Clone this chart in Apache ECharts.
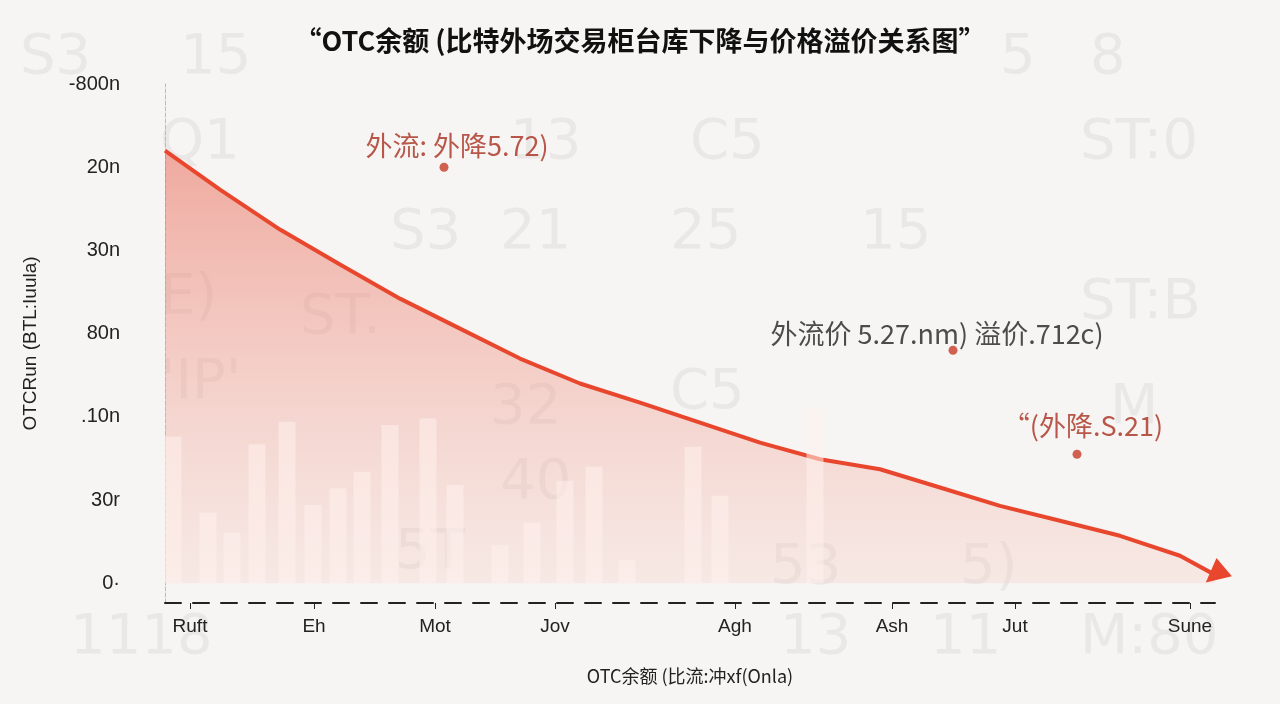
<!DOCTYPE html>
<html>
<head>
<meta charset="utf-8">
<script src="https://cdn.jsdelivr.net/npm/echarts@6/dist/echarts.min.js"></script>
<style>
  html, body { margin: 0; padding: 0; background: #f7f5f4; }
  #chart { width: 1280px; height: 704px; }
</style>
</head>
<body>
<div id="chart"></div>
<script>
// x is measured on a 0..105 scale across the plot width
var xTickPos = [2.5, 14.9, 27, 39, 57, 72.7, 85, 102.5];
var xTickLabels = ['Ruft', 'Eh', 'Mot', 'Jov', 'Agh', 'Ash', 'Jut', 'Sune'];
var yTickPos = [0, 1, 2, 3, 4, 5, 6];
var yTickLabels = ['0·', '30r', '.10n', '80n', '30n', '20n', '-800n'];

var lineX = [0, 5.5, 11.5, 17.5, 23.5, 29.5, 35.5, 41.5, 47.5, 53.5, 59.5, 65.5, 71.5, 77.5, 83.5, 89.5, 95.5, 101.5, 105];
var lineY = [5.2, 4.73, 4.25, 3.83, 3.42, 3.06, 2.7, 2.4, 2.17, 1.93, 1.69, 1.49, 1.37, 1.15, 0.93, 0.75, 0.57, 0.33, 0.1];

var barX = [0.8, 4.3, 6.7, 9.2, 12.2, 14.8, 17.3, 19.7, 22.5, 26.3, 29, 33.5, 36.7, 40, 42.9, 46.2, 52.8, 55.5, 65];
var barY = [1.76, 0.85, 0.61, 1.67, 1.94, 0.94, 1.14, 1.34, 1.9, 1.98, 1.18, 0.46, 0.73, 1.23, 1.4, 0.28, 1.64, 1.05, 2.1];

var notes = [
  { x: 27.9, y: 5.0, text: '外流: 外降5.72)', color: '#a8301e', dx: 13, dy: 2 },
  { x: 78.8, y: 2.8, text: '外流价 5.27.nm) 溢价.712c)', color: '#222', dx: -16, dy: 6 },
  { x: 91.2, y: 1.55, text: '“(外降.S.21)', color: '#a8301e', dx: 6, dy: -6 }
];

var watermarks = [
  ['15', 180, 60], ['S3', 20, 60], ['8', 1090, 60], ['5', 1000, 60],
  ['Q1', 160, 145], ['C5', 690, 145], ['ST:0', 1080, 145], ['13', 510, 145],
  ['25', 670, 235], ['15', 860, 235], ['21', 500, 235], ['S3', 390, 235],
  ['ST:B', 1080, 305], ['ST.', 300, 320], ['E)', 160, 300], ['32', 490, 410],
  ['\'IP\'', 160, 385], ['C5', 670, 395], ['40', 500, 485], ['53', 770, 570],
  ['5T', 395, 555], ['5)', 960, 570], ['M', 1110, 410], ['M:80', 1080, 640],
  ['1118', 70, 640], ['13', 780, 640], ['11', 930, 640]
];

var chart = echarts.init(document.getElementById('chart'));

var option = {
  backgroundColor: '#f7f5f4',
  graphic: watermarks.map(function (w) {
    return {
      type: 'text', left: w[1], top: w[2] - 30, z: -10, silent: true,
      style: { text: w[0], font: '56px DejaVu Sans', fill: 'rgba(150,150,150,0.13)' }
    };
  }),
  title: {
    text: '“OTC余额 (比特外场交易柜台库下降与价格溢价关系图”',
    left: 'center', top: 22,
    textStyle: { fontSize: 27, fontWeight: 'bold', color: '#111', fontFamily: 'Noto Sans CJK SC' }
  },
  grid: { left: 165, right: 65, top: 84, bottom: 101 },
  xAxis: {
    type: 'value', min: 0, max: 105,
    name: 'OTC余额 (比流:冲xf(Onla)', nameLocation: 'middle', nameGap: 64,
    nameTextStyle: { fontSize: 18, color: '#222', fontFamily: 'Noto Sans CJK SC' },
    axisLine: { show: true, onZero: false, lineStyle: { color: '#222', width: 2, type: [16, 12] } },
    axisTick: { show: true, customValues: xTickPos, length: 6, lineStyle: { color: '#222' } },
    axisLabel: {
      customValues: xTickPos, fontSize: 19, color: '#222', margin: 14,
      formatter: function (v) { return xTickLabels[xTickPos.indexOf(v)]; }
    },
    splitLine: { show: false }
  },
  yAxis: {
    type: 'value', min: -0.238, max: 6,
    name: 'OTCRun (BTL:Iuula)', nameLocation: 'middle', nameGap: 125, nameRotate: 90,
    nameTextStyle: { fontSize: 19, color: '#222' },
    axisLine: { show: true, lineStyle: { color: '#bbb', type: 'dashed' } },
    axisTick: { show: false },
    axisLabel: {
      customValues: yTickPos, fontSize: 20, color: '#222', margin: 45,
      formatter: function (v) { return yTickLabels[yTickPos.indexOf(v)]; }
    },
    splitLine: { show: false }
  },
  series: [
    {
      type: 'line', z: 3,
      data: lineX.map(function (x, i) {
        var p = [x, lineY[i]];
        if (i === lineX.length - 1) {
          return { value: p, symbol: 'triangle', symbolSize: 24, symbolRotate: 130, itemStyle: { color: '#e8472e' } };
        }
        return p;
      }),
      symbol: 'none',
      lineStyle: { color: '#e8472e', width: 4 },
      areaStyle: {
        origin: 0,
        color: new echarts.graphic.LinearGradient(0, 0, 0, 1, [
          { offset: 0, color: 'rgba(232,100,80,0.75)' },
          { offset: 1, color: 'rgba(246,205,195,0.45)' }
        ])
      }
    },
    {
      type: 'bar', z: 4, barWidth: 17,
      data: barX.map(function (x, i) { return [x, barY[i]]; }),
      itemStyle: { color: 'rgba(255,240,236,0.55)' }
    },
    {
      type: 'scatter', z: 5, symbolSize: 9,
      data: notes.map(function (n) {
        return {
          value: [n.x, n.y],
          label: {
            show: true, formatter: n.text, position: 'top', offset: [n.dx, n.dy],
            fontSize: 27, color: n.color, fontFamily: 'Noto Sans CJK SC'
          }
        };
      }),
      itemStyle: { color: '#c53b25' }
    }
  ]
};

chart.setOption(option);
</script>
</body>
</html>
